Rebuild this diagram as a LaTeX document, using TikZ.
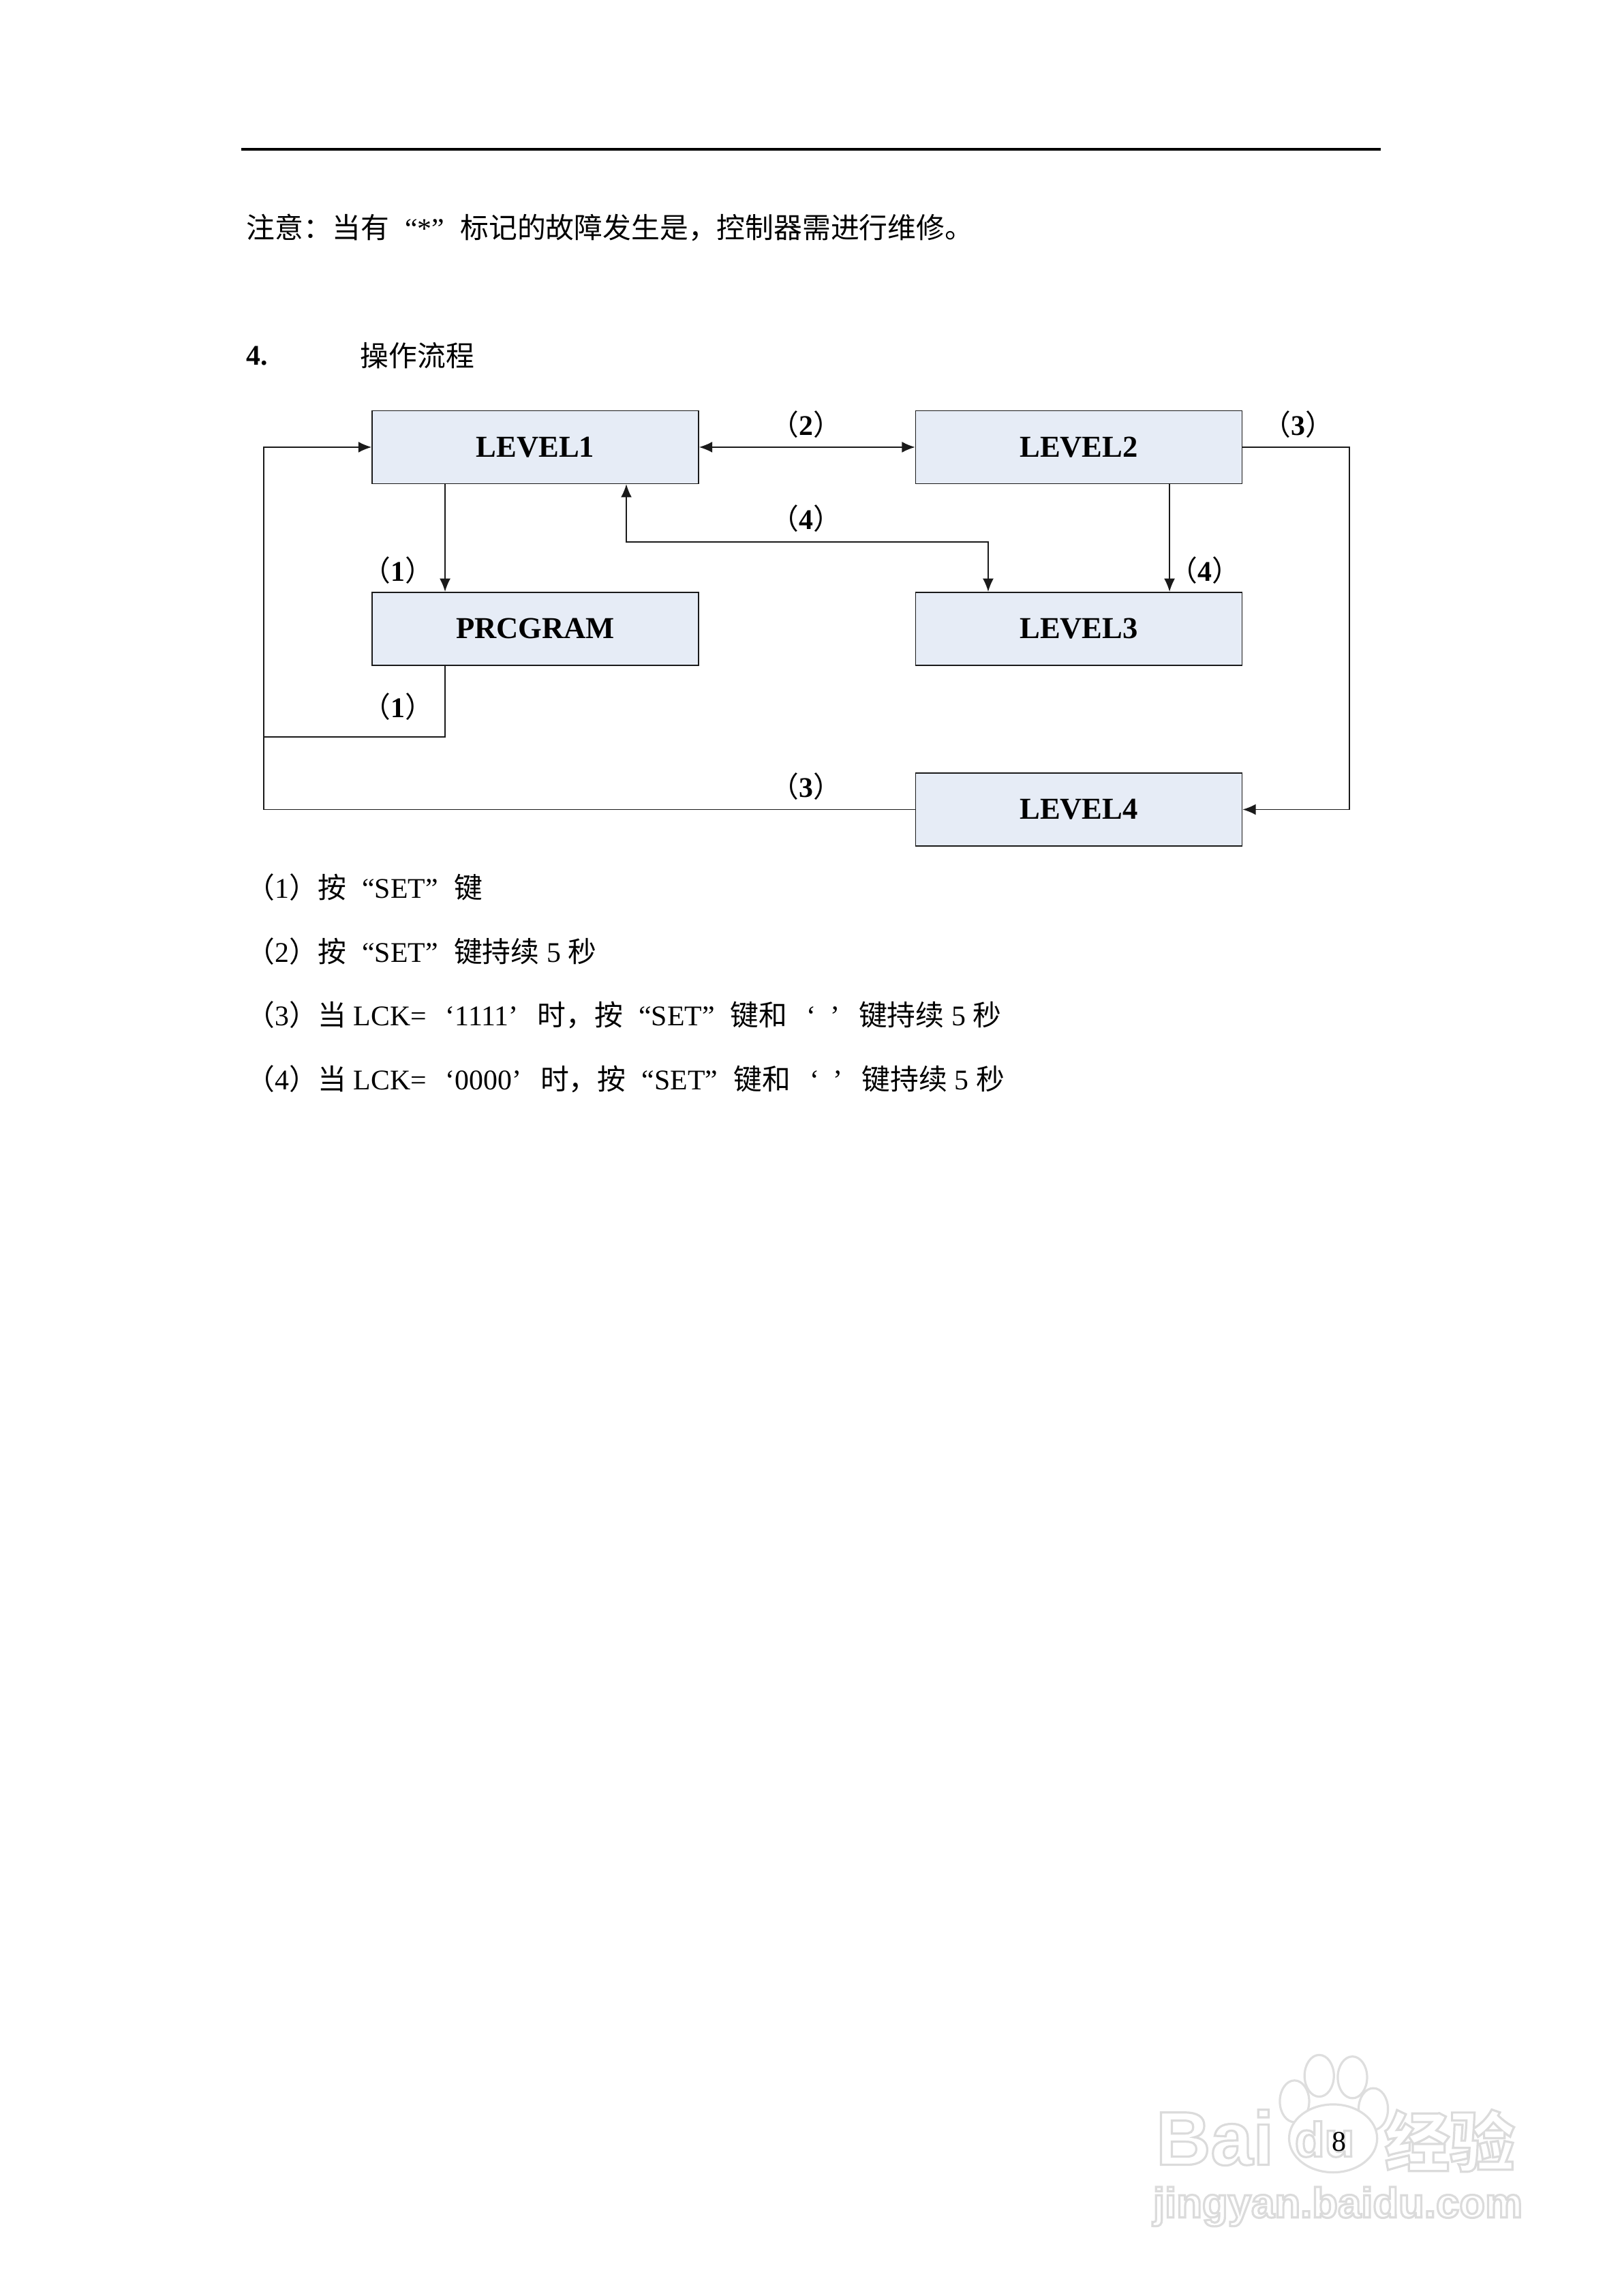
\documentclass[tikz,border=0pt]{standalone}
\usepackage{fontspec}
\setmainfont{Liberation Serif}
\newfontfamily\cjk{Noto Sans CJK SC}
\newfontfamily\marksans{Liberation Sans}
\usetikzlibrary{arrows.meta}
\usetikzlibrary{positioning}
\definecolor{boxfill}{HTML}{E6ECF6}
\definecolor{linedark}{HTML}{1A1A1A}
\newcommand{\openq}{\makebox[1em][r]{“}}
\newcommand{\closeq}{\makebox[1em][l]{”}}
\newcommand{\opens}{\makebox[1em][r]{‘}}
\newcommand{\closes}{\makebox[1em][l]{’}}
\newcommand{\stepnum}[1]{{\cjk\mdseries （}#1{\cjk\mdseries ）}}
\newcommand{\outlined}[1]{\special{pdf:code 1 Tr 0.8 w 0.86 G}#1\special{pdf:code 0 Tr}}
\tikzset{
  levelbox/.style={draw=linedark,line width=0.4pt,fill=boxfill,minimum width=4.227cm,minimum height=0.944cm,inner sep=0pt,font=\fontsize{11.2}{13}\selectfont\bfseries},
  flow/.style={draw=linedark,line width=0.4pt,-{Latex[length=0.17cm,width=0.14cm]}},
  bothflow/.style={draw=linedark,line width=0.4pt,{Latex[length=0.17cm,width=0.14cm]}-{Latex[length=0.17cm,width=0.14cm]}},
  plainflow/.style={draw=linedark,line width=0.4pt},
  steplabel/.style={font=\fontsize{10.5}{12}\selectfont\bfseries},
  bodytext/.style={anchor=west,inner sep=0pt,font=\fontsize{10.5}{13}\selectfont},
  markpaw/.style={draw=black!13,fill=white,line width=0.8pt},
  marktext/.style={inner sep=0pt}
}
\begin{document}
\begin{tikzpicture}
\useasboundingbox[fill=white] (0,0) rectangle (21,29.718);
\draw[line width=1pt] (3.124,27.786) -- (17.877,27.786);

\node[bodytext] (note) at (3.185,26.77) {{\cjk 注意：当有}\openq *\closeq{\cjk 标记的故障发生是，控制器需进行维修。}};
\node[bodytext] (secnum) at (3.185,25.112) {\textbf{4.}};
\node[bodytext] (sectitle) at (4.66,25.112) {\cjk 操作流程};

\node[levelbox] (level1) at (6.931,23.93) {LEVEL1};
\node[levelbox] (level2) at (13.968,23.93) {LEVEL2};
\node[levelbox] (prog) at (6.931,21.58) {PRCGRAM};
\node[levelbox] (level3) at (13.968,21.58) {LEVEL3};
\node[levelbox] (level4) at (13.968,19.24) {LEVEL4};

\coordinate (busleft) at (3.415,20.179);
\coordinate (busright) at (17.471,23.93);
\coordinate (t1) at (5.762,23.93);
\coordinate (t2) at (8.109,22.703);
\coordinate (t3) at (12.794,22.703);
\coordinate (t4) at (15.142,23.93);

\draw[bothflow] (level1.east) -- (level2.west);
\draw[flow] (t1 |- level1.south) -- (t1 |- prog.north);
\draw[flow] (t4 |- level2.south) -- (t4 |- level3.north);
\draw[plainflow] (t1 |- prog.south) |- (busleft);
\draw[flow] (level4.west) -| (busleft) |- (level1.west);
\draw[flow] (level2.east) -- (busright) |- (level4.east);
\draw[bothflow] (t2 |- level1.south) -- (t2) -- (t3) -- (t3 |- level3.north);

\node[steplabel] (lab2) at (10.44,24.22) {\stepnum{2}};
\node[steplabel] (lab3a) at (16.81,24.22) {\stepnum{3}};
\node[steplabel] (lab4a) at (10.44,23.01) {\stepnum{4}};
\node[steplabel] (lab1a) at (5.155,22.34) {\stepnum{1}};
\node[steplabel] (lab4b) at (15.6,22.34) {\stepnum{4}};
\node[steplabel] (lab1b) at (5.155,20.57) {\stepnum{1}};
\node[steplabel] (lab3b) at (10.44,19.54) {\stepnum{3}};

\node[bodytext] (item1) at (3.185,18.23) {{\cjk （}1{\cjk ）按}\openq SET\closeq{\cjk 键}};
\node[bodytext] (item2) at (3.185,17.40) {{\cjk （}2{\cjk ）按}\openq SET\closeq{\cjk 键持续} 5 {\cjk 秒}};
\node[bodytext] (item3) at (3.185,16.58) {{\cjk （}3{\cjk ）当} LCK=\opens 1111\closes{\cjk 时，按}\openq SET\closeq{\cjk 键和}\opens\hspace{0.5em}\closes{\cjk 键持续} 5 {\cjk 秒}};
\node[bodytext] (item4) at (3.185,15.75) {{\cjk （}4{\cjk ）当} LCK=\opens 0000\closes{\cjk 时，按}\openq SET\closeq{\cjk 键和}\opens\hspace{0.5em}\closes{\cjk 键持续} 5 {\cjk 秒}};

% watermark
\draw[markpaw] (16.76,2.52) ellipse (0.19 and 0.27);
\draw[markpaw] (17.08,2.85) ellipse (0.19 and 0.27);
\draw[markpaw] (17.51,2.83) ellipse (0.19 and 0.27);
\draw[markpaw] (17.78,2.42) ellipse (0.19 and 0.27);
\draw[markpaw] (17.26,2.04) ellipse (0.57 and 0.44);
\node[marktext,font=\marksans\bfseries\fontsize{28}{30}\selectfont] (markbai) at (15.73,2.05) {\outlined{Bai}};
\node[marktext,font=\marksans\bfseries\fontsize{18}{20}\selectfont] (markdu) at (17.15,2.03) {\outlined{du}};
\node[marktext,font=\cjk\bfseries\fontsize{24}{26}\selectfont] (markjy) at (18.77,2.01) {\outlined{经验}};
\node[marktext,font=\marksans\bfseries\fontsize{15.5}{17}\selectfont] (markurl) at (17.32,1.156) {\outlined{jingyan.baidu.com}};
\node[inner sep=0pt,font=\fontsize{10.5}{13}\selectfont] (pagenum) at (17.34,2.0) {8};
\end{tikzpicture}
\end{document}
